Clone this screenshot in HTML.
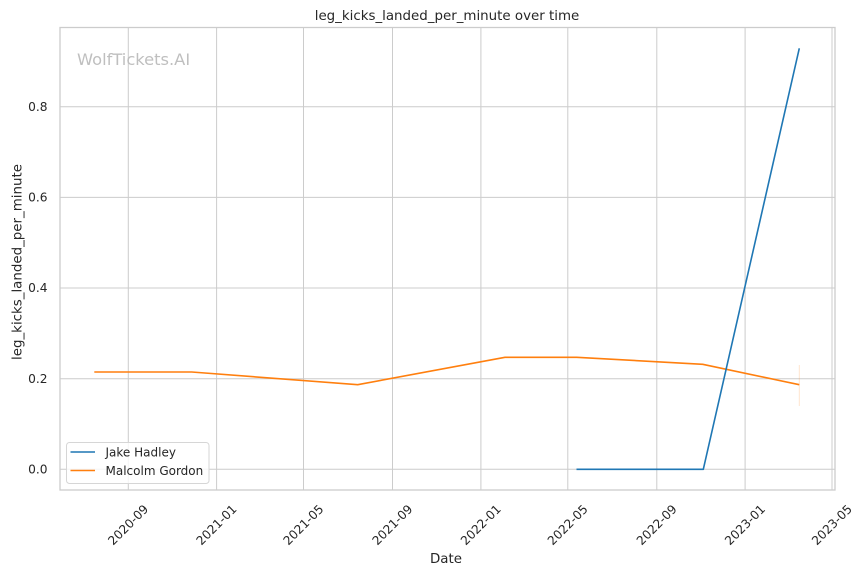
<!DOCTYPE html>
<html><head><meta charset="utf-8"><style>
html,body{margin:0;padding:0;background:#fff;}
svg{display:block;font-family:"DejaVu Sans","Liberation Sans",sans-serif;}
</style></head><body>
<svg width="864" height="575" viewBox="0 0 864 575" xmlns="http://www.w3.org/2000/svg">
<rect width="864" height="575" fill="#fff"/>
<!-- grid -->
<g stroke="#cccccc" stroke-width="1" fill="none">
<line x1="128.3" y1="27.5" x2="128.3" y2="490"/>
<line x1="216.6" y1="27.5" x2="216.6" y2="490"/>
<line x1="303.5" y1="27.5" x2="303.5" y2="490"/>
<line x1="392.5" y1="27.5" x2="392.5" y2="490"/>
<line x1="480.9" y1="27.5" x2="480.9" y2="490"/>
<line x1="567.8" y1="27.5" x2="567.8" y2="490"/>
<line x1="656.8" y1="27.5" x2="656.8" y2="490"/>
<line x1="745.1" y1="27.5" x2="745.1" y2="490"/>
<line x1="832.0" y1="27.5" x2="832.0" y2="490"/>
<line x1="60" y1="469.3" x2="835" y2="469.3"/>
<line x1="60" y1="378.7" x2="835" y2="378.7"/>
<line x1="60" y1="288.0" x2="835" y2="288.0"/>
<line x1="60" y1="197.4" x2="835" y2="197.4"/>
<line x1="60" y1="106.7" x2="835" y2="106.7"/>
</g>
<rect x="60" y="27.5" width="775" height="462.5" fill="none" stroke="#cccccc" stroke-width="1.3"/>
<!-- watermark -->
<text x="77" y="65" font-size="16.3" fill="#bfbfbf">WolfTickets.AI</text>
<!-- series -->
<line x1="799.3" y1="365" x2="799.3" y2="406" stroke="#ff7f0e" stroke-opacity="0.2" stroke-width="1"/>
<polyline points="94.3,372 191.7,372 357.7,384.7 505,357.3 576.7,357.3 702.7,364.3 799.3,384.7" fill="none" stroke="#ff7f0e" stroke-width="1.6" stroke-linejoin="round"/>
<polyline points="576.5,469.3 703.3,469.3 799.3,48.3" fill="none" stroke="#1f77b4" stroke-width="1.6" stroke-linejoin="round"/>
<!-- y ticks -->
<g font-size="12.2" fill="#262626" text-anchor="end">
<text x="47.5" y="473.5">0.0</text>
<text x="47.5" y="382.9">0.2</text>
<text x="47.5" y="292.2">0.4</text>
<text x="47.5" y="201.6">0.6</text>
<text x="47.5" y="110.9">0.8</text>
</g>
<!-- x ticks -->
<g font-size="12.2" fill="#262626" text-anchor="middle" dominant-baseline="central">
<text transform="translate(128.3,525) rotate(-45)">2020-09</text>
<text transform="translate(216.6,525) rotate(-45)">2021-01</text>
<text transform="translate(303.5,525) rotate(-45)">2021-05</text>
<text transform="translate(392.5,525) rotate(-45)">2021-09</text>
<text transform="translate(480.9,525) rotate(-45)">2022-01</text>
<text transform="translate(567.8,525) rotate(-45)">2022-05</text>
<text transform="translate(656.8,525) rotate(-45)">2022-09</text>
<text transform="translate(745.1,525) rotate(-45)">2023-01</text>
<text transform="translate(832.0,525) rotate(-45)">2023-05</text>
</g>
<!-- labels -->
<text x="447" y="20" font-size="13.4" fill="#262626" text-anchor="middle">leg_kicks_landed_per_minute over time</text>
<text x="446" y="563" font-size="13.4" fill="#262626" text-anchor="middle">Date</text>
<text transform="translate(21.5,262) rotate(-90)" font-size="13.4" fill="#262626" text-anchor="middle">leg_kicks_landed_per_minute</text>
<!-- legend -->
<rect x="66.5" y="442.5" width="142.5" height="41" rx="3" ry="3" fill="#fff" fill-opacity="0.8" stroke="#d6d6d6" stroke-width="1"/>
<line x1="70.5" y1="452" x2="95" y2="452" stroke="#1f77b4" stroke-width="1.6"/>
<line x1="70.5" y1="470.5" x2="95" y2="470.5" stroke="#ff7f0e" stroke-width="1.6"/>
<g font-size="12" fill="#262626">
<text x="105.5" y="456.5">Jake Hadley</text>
<text x="105.5" y="475">Malcolm Gordon</text>
</g>
</svg>
</body></html>
